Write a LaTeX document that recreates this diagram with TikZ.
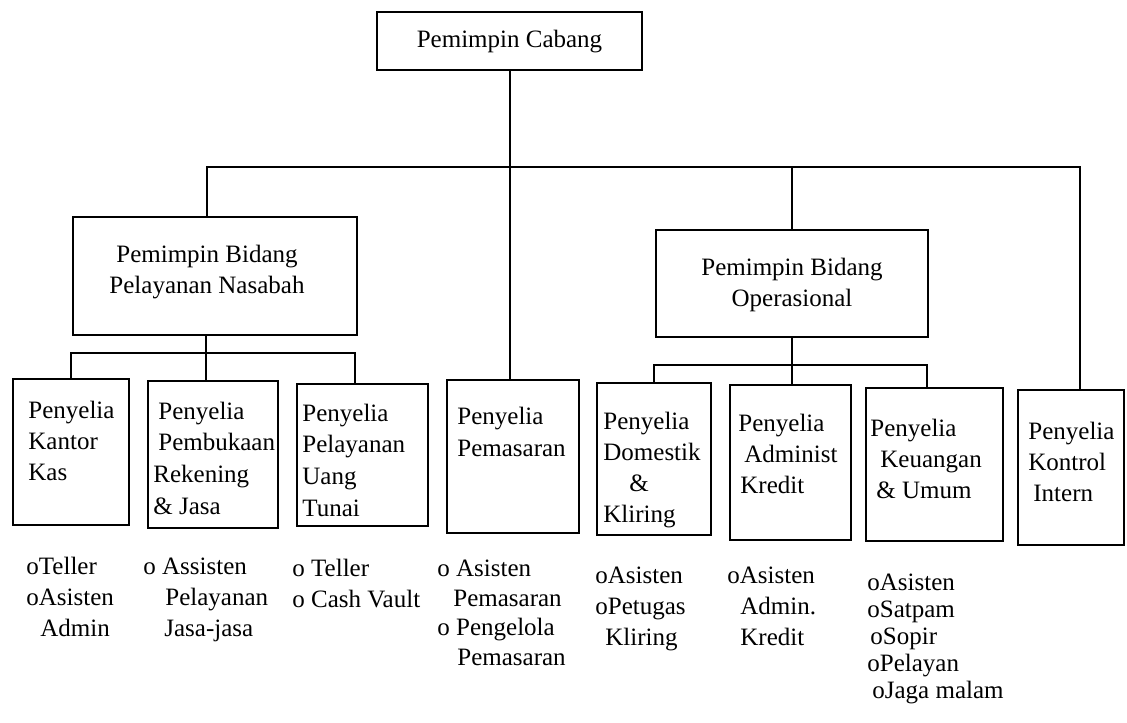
\documentclass[tikz,border=0pt]{standalone}
\usepackage{fontspec}
\setmainfont{Liberation Serif}
\usepackage{tikz}

\begin{document}
\begin{tikzpicture}[x=0.5pt, y=-0.5pt,
	box/.style={draw, line width=1pt, inner sep=0pt},
	txt/.style={anchor=base west, align=left, inner sep=0pt, font=\fontsize{12.5}{15.5}\selectfont},
	ctxt/.style={anchor=base, align=center, inner sep=0pt, font=\fontsize{12.5}{15.5}\selectfont},
	link/.style={line width=1pt}]
	\useasboundingbox (0,0) rectangle (1127,722);
	\node[box, minimum width=132.5pt, minimum height=29pt] (cabang) at (509.5,41) {};
	\node[box, minimum width=142pt, minimum height=59pt] (nasabah) at (215,276) {};
	\node[box, minimum width=136pt, minimum height=53.5pt] (operasional) at (792,283.5) {};
	\node[box, minimum width=58pt, minimum height=73pt] (kas) at (71,452) {};
	\node[box, minimum width=65pt, minimum height=73.5pt] (rekening) at (213,454.5) {};
	\node[box, minimum width=65.5pt, minimum height=71pt] (tunai) at (362.5,455) {};
	\node[box, minimum width=66pt, minimum height=76.5pt] (pemasaran) at (513,456.5) {};
	\node[box, minimum width=57pt, minimum height=76pt] (kliring) at (654,459) {};
	\node[box, minimum width=60.5pt, minimum height=77.5pt] (kredit) at (790.5,462.5) {};
	\node[box, minimum width=68.5pt, minimum height=76.5pt] (umum) at (934.5,464.5) {};
	\node[box, minimum width=53pt, minimum height=77.5pt] (kontrol) at (1071,467.5) {};
	\node[ctxt] (cabang-t) at (509.5,48) {Pemimpin Cabang};
	\node[ctxt] (nasabah-t) at (207,293) {Pemimpin Bidang\\Pelayanan Nasabah};
	\node[ctxt] (operasional-t) at (792,306) {Pemimpin Bidang\\Operasional};
	\node[txt] (kas-t) at (28,480) {Penyelia\\Kantor\\Kas};
	\node[txt, font=\fontsize{12.5}{15.8}\selectfont] (rekening-t) at (153,514) {\hspace*{2.5pt}Penyelia\\\hspace*{2.5pt}Pembukaan\\Rekening\\\& Jasa};
	\node[txt, font=\fontsize{12.5}{15.8}\selectfont] (tunai-t) at (302,516) {Penyelia\\Pelayanan\\Uang\\Tunai};
	\node[txt, font=\fontsize{12.5}{16}\selectfont] (pemasaran-t) at (457,456) {Penyelia\\Pemasaran};
	\node[txt] (kliring-t) at (603,522) {Penyelia\\Domestik\\\hspace*{13pt}\&\\Kliring};
	\node[txt] (kredit-t) at (738,493) {Penyelia\\\hspace*{3pt}Administ\\\hspace*{1pt}Kredit};
	\node[txt] (umum-t) at (870,498) {Penyelia\\\hspace*{5pt}Keuangan\\\hspace*{3pt}\& Umum};
	\node[txt] (kontrol-t) at (1028,501) {Penyelia\\Kontrol\\\hspace*{2.5pt}Intern};
	\node[txt] (kas-l) at (26,636) {oTeller\\oAsisten\\\hspace*{7pt}Admin};
	\node[txt] (rekening-l) at (143,636) {o Assisten\\\hspace*{11pt}Pelayanan\\\hspace*{10.5pt}Jasa-jasa};
	\node[txt] (tunai-l) at (292,607) {o Teller\\o Cash Vault};
	\node[txt, font=\fontsize{12.5}{14.7}\selectfont] (pemasaran-l) at (437,665) {o Asisten\\\hspace*{8pt}Pemasaran\\o Pengelola\\\hspace*{10pt}Pemasaran};
	\node[txt] (kliring-l) at (595,645) {oAsisten\\oPetugas\\\hspace*{5pt}Kliring};
	\node[txt] (kredit-l) at (727,645) {oAsisten\\\hspace*{6.5pt}Admin.\\\hspace*{6.5pt}Kredit};
	\node[txt, font=\fontsize{12.5}{13.5}\selectfont] (umum-l) at (867,698) {oAsisten\\oSatpam\\\hspace*{1.5pt}oSopir\\oPelayan\\\hspace*{2.5pt}oJaga malam};
	\coordinate (busL) at (207,167);
	\coordinate (busR) at (1080,167);
	\coordinate (subL) at (206,353);
	\coordinate (subLR) at (355,353);
	\coordinate (subRR) at (927,365);
	\draw[link] (cabang.south) -- (cabang.south |- pemasaran.north);
	\draw[link] (busL |- nasabah.north) -- (busL) -- (busR) -- (busR |- kontrol.north);
	\draw[link] (operasional.north) -- (operasional.north |- busL);
	\draw[link] (subL |- nasabah.south) -- (subL |- rekening.north);
	\draw[link] (kas.north) |- (subLR) -- (subLR |- tunai.north);
	\draw[link] (operasional.south) -- (operasional.south |- kredit.north);
	\draw[link] (kliring.north) |- (subRR) -- (subRR |- umum.north);
\end{tikzpicture}
\end{document}
